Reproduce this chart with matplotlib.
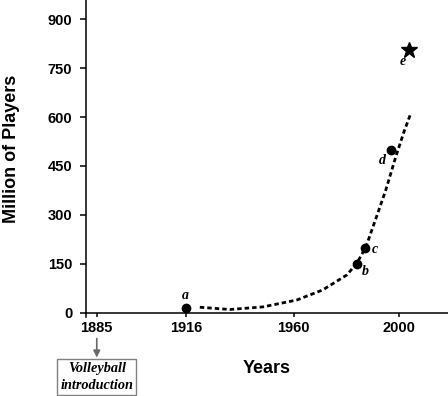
import numpy as np
import matplotlib
matplotlib.use("Agg")
import matplotlib.pyplot as plt

# observed points (year, million of players)
point_labels = ["a", "b", "c", "d"]
point_years = [1916, 1984, 1987, 1997]
point_values = [16, 150, 200, 500]
star_label = "e"
star_year = 2004
star_value = 805

# dashed trend curve
trend_years = [1921.7, 1933.9, 1947.4, 1961.1, 1971.0, 1980.2, 1984.0,
               1987.4, 1990.9, 1995.0, 1998.8, 2001.9, 2004.6]
trend_values = [17, 10, 18, 39, 70, 116, 152, 201, 281, 376, 478, 554, 613]

x_ticks = [1885, 1916, 1960, 2000]
y_ticks = [0, 150, 300, 450, 600, 750, 900]

# the original x axis is not evenly spaced: piecewise scale
scale_years = [1800, 1885, 1916, 1960, 2000, 2100]
scale_units = [-244.0, 0.0, 89.0, 197.0, 302.0, 564.5]


def forward(x):
    return np.interp(x, scale_years, scale_units)


def inverse(u):
    return np.interp(u, scale_units, scale_years)


sans = "Liberation Sans"
serif = "Liberation Serif"

fig = plt.figure(figsize=(4.48, 3.96), dpi=100)
ax = fig.add_axes([0.191, 0.1995, 0.809, 0.8005])
ax.set_xscale("function", functions=(forward, inverse))

ax.plot(trend_years, trend_values, color="black", lw=2.0,
        linestyle=(0, (1.6, 1.1)))
ax.plot(point_years, point_values, "o", color="black", ms=6)
ax.plot([star_year], [star_value], "*", color="black", ms=12)

# letter labels next to each point
offsets = [(0, 8.6), (5.8, -5.5), (7.4, -1.2), (-6, -7.9)]
for lab, x, y, off in zip(point_labels, point_years, point_values, offsets):
    ax.annotate(lab, (x, y), xytext=off, textcoords="offset points",
                ha="center", va="center", family=serif, style="italic",
                weight="bold", fontsize=10)
ax.annotate(star_label, (star_year, star_value), xytext=(-4.5, -8.2),
            textcoords="offset points", ha="center", va="center",
            family=serif, style="italic", weight="bold", fontsize=10)

ax.set_xlim(1881.1, 2018.7)
ax.set_ylim(-13, 959)
ax.spines["bottom"].set_position(("data", 0))
ax.spines["top"].set_visible(False)
ax.spines["right"].set_visible(False)
for s in ["left", "bottom"]:
    ax.spines[s].set_linewidth(1.1)

ax.set_xticks(x_ticks)
ax.set_yticks(y_ticks)
ax.tick_params(axis="y", direction="out", length=4.5, width=1.1, pad=5)
ax.tick_params(axis="x", direction="out", length=3.1, width=1.1, pad=3)
for lab in ax.get_xticklabels() + ax.get_yticklabels():
    lab.set_fontfamily(sans)
    lab.set_fontweight("bold")
    lab.set_fontsize(10.5)

ax.set_xlabel("Years", family=sans, weight="bold", fontsize=13)
ax.set_ylabel("Million of Players", family=sans, weight="bold", fontsize=13)
ax.xaxis.set_label_coords(0.5, -0.135)
ax.yaxis.set_label_coords(-0.182, 0.53)

# introduction year note below the axis
trans = ax.get_xaxis_transform()
ax.annotate("", xy=(1885, -0.128), xytext=(1885, -0.068), xycoords=trans,
            arrowprops=dict(arrowstyle="-|>", color="dimgray", lw=1.2,
                            mutation_scale=10, shrinkA=0, shrinkB=0))
ax.text(1885, -0.143, "Volleyball\nintroduction", transform=trans,
        ha="center", va="top", family=serif, style="italic", weight="bold",
        fontsize=10.3, linespacing=1.4,
        bbox=dict(boxstyle="square,pad=0.22", fc="white", ec="gray", lw=1))

fig.savefig("out.png", dpi=100)
